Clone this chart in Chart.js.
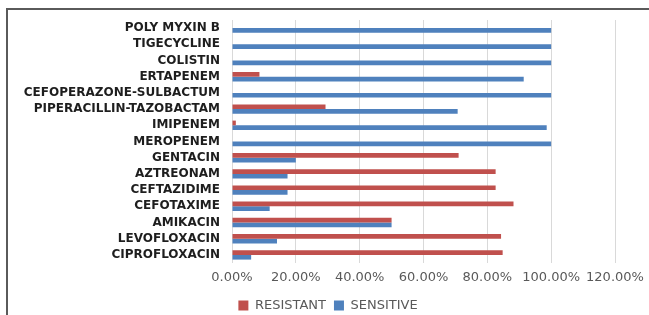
<!DOCTYPE html>
<html>
<head>
<meta charset="utf-8">
<script src="https://cdn.jsdelivr.net/npm/chart.js@4"></script>
<style>
  html, body { margin: 0; padding: 0; background: #fff; overflow: hidden; }
  #wrap { position: relative; width: 649px; height: 315px; overflow: hidden; }
  #frame { position: absolute; left: 6px; top: 8px; width: 700px; height: 400px;
           border-top: 2px solid #5a5a5a; border-left: 2px solid #5a5a5a; }
  canvas { position: absolute; left: 0; top: 0; }
</style>
</head>
<body>
<div id="wrap">
  <div id="frame"></div>
  <canvas id="myChart" width="649" height="315"></canvas>
</div>
<script>
'use strict';

// ***** DATA (top to bottom as in the picture) *****
const drugNames = [
  'POLY MYXIN B', 'TIGECYCLINE', 'COLISTIN', 'ERTAPENEM',
  'CEFOPERAZONE-SULBACTUM', 'PIPERACILLIN-TAZOBACTAM', 'IMIPENEM',
  'MEROPENEM', 'GENTACIN', 'AZTREONAM', 'CEFTAZIDIME', 'CEFOTAXIME',
  'AMIKACIN', 'LEVOFLOXACIN', 'CIPROFLOXACIN'
];
const resistantPct = [0, 0, 0, 8.6, 0, 29.3, 1.2, 0, 71, 82.6, 82.6, 88.2, 50, 84.3, 84.8];
const sensitivePct = [100, 100, 100, 91.4, 100, 70.7, 98.6, 100, 20, 17.4, 17.4, 11.8, 50, 14.1, 6];
const xTicks = [0, 20, 40, 60, 80, 100, 120];

// ***** CHART *****
const ctx = document.getElementById('myChart').getContext('2d');

const chartObj = {
  type: 'bar',
  data: {
    labels: drugNames,
    datasets: [{
      label: 'RESISTANT',
      data: resistantPct,
      backgroundColor: '#C0504D'
    },
    {
      label: 'SENSITIVE',
      data: sensitivePct,
      backgroundColor: '#4F81BD'
    }]
  },
  options: {
    indexAxis: 'y',
    responsive: false,
    animation: false,
    datasets: {
      bar: { categoryPercentage: 0.58, barPercentage: 1.0 }
    },
    layout: { padding: { left: 7, right: 0, top: 20, bottom: -7 } },
    scales: {
      x: {
        min: 0,
        max: 120,
        afterBuildTicks: axis => { axis.ticks = xTicks.map(v => ({ value: v })); },
        // keep room on the right like the original plot area, and a shorter axis band
        afterFit: axis => { axis.paddingRight = 34; axis.height = 28; },
        grid: { color: '#d9d9d9', drawTicks: false },
        border: { display: false },
        ticks: {
          padding: 7,
          color: '#595959',
          font: { family: 'DejaVu Sans', size: 13 },
          callback: v => v.toFixed(2) + '%'
        }
      },
      y: {
        afterFit: axis => { axis.width = 225; },
        grid: { display: false, drawTicks: false },
        border: { display: false },
        ticks: {
          padding: 12,
          color: '#1e1e1e',
          autoSkip: false,
          font: { family: 'DejaVu Sans', size: 12, weight: 'bold' }
        }
      }
    },
    plugins: {
      legend: {
        position: 'bottom',
        labels: {
          boxWidth: 10,
          boxHeight: 10,
          padding: 8,
          color: '#595959',
          font: { family: 'DejaVu Sans', size: 13 }
        }
      },
      tooltip: { enabled: false }
    }
  }
};

const myChart = new Chart(ctx, chartObj);
</script>
</body>
</html>
